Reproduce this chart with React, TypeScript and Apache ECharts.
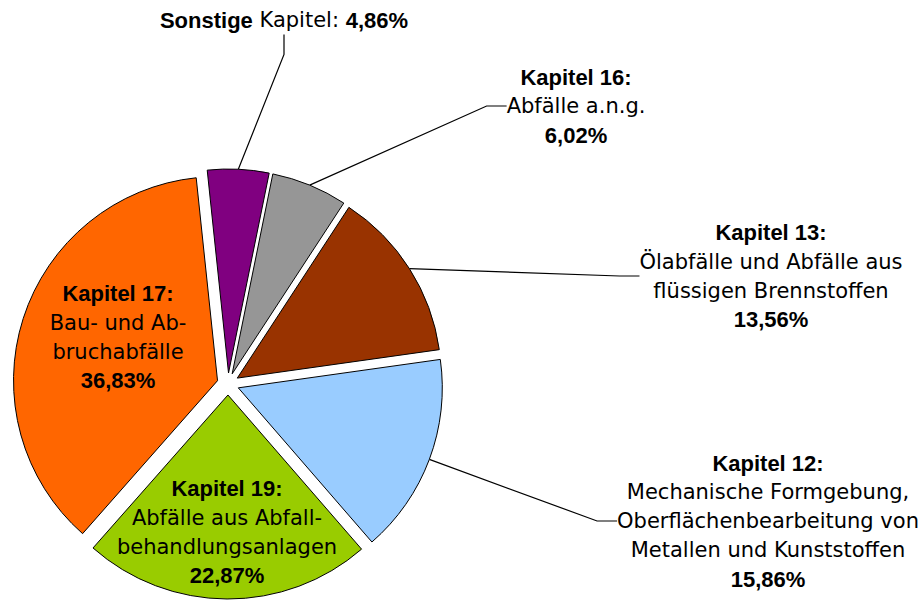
import React, { useEffect, useRef } from "react";
import * as echarts from "echarts";

const categories = [
  "Sonstige Kapitel",
  "Kapitel 16",
  "Kapitel 13",
  "Kapitel 12",
  "Kapitel 19",
  "Kapitel 17",
];
const descriptions: string[][] = [
  [],
  ["Abfälle a.n.g."],
  ["Ölabfälle und Abfälle aus", "flüssigen Brennstoffen"],
  ["Mechanische Formgebung,", "Oberflächenbearbeitung von", "Metallen und Kunststoffen"],
  ["Abfälle aus Abfall-", "behandlungsanlagen"],
  ["Bau- und Ab-", "bruchabfälle"],
];
const values = [4.86, 6.02, 13.56, 15.86, 22.87, 36.83];
const colors = ["#800080", "#969696", "#993300", "#99CCFF", "#99CC00", "#FF6600"];
const insideLabel = [false, false, false, false, true, true];

// label anchor positions (layout only)
const labelPos: [number, number][] = [
  [284, 20],
  [576, 106],
  [771, 276],
  [768, 521],
  [227, 532],
  [118, 337],
];

const CENTER: [number, number] = [228, 384];
const RADIUS = 204;
const START_ANGLE = 96;
const EXPLODE = 11;

const fmtPct = (v: number) => v.toFixed(2).replace(".", ",") + "%";

export default function App() {
  const ref = useRef<HTMLDivElement>(null);
  useEffect(() => {
    if (!ref.current) return;
    const chart = echarts.init(ref.current, undefined, { renderer: "svg" });
    const total = values.reduce((a, b) => a + b, 0);
    let cum = 0;
    const series = categories.map((_, k) => {
      const mid = START_ANGLE - (360 * (cum + values[k] / 2)) / total;
      cum += values[k];
      const rad = (mid * Math.PI) / 180;
      const cx = CENTER[0] + EXPLODE * Math.cos(rad);
      const cy = CENTER[1] - EXPLODE * Math.sin(rad);
      const data = categories.map((name, i) => {
        const on = i === k;
        return {
          name,
          value: values[i],
          itemStyle: on
            ? { color: colors[i], borderColor: "#000000", borderWidth: 1 }
            : { color: "rgba(0,0,0,0)", borderWidth: 0 },
          label: { show: on, position: insideLabel[i] ? "inside" : "outside" },
          labelLine: { show: on && !insideLabel[i] },
        };
      });
      return {
        type: "pie",
        center: [cx, cy],
        radius: RADIUS,
        startAngle: START_ANGLE,
        clockwise: true,
        avoidLabelOverlap: false,
        silent: true,
        emphasis: { disabled: true },
        labelLine: {
          lineStyle: { color: "#000000", width: 1.2 },
          length: 20,
          length2: 20,
        },
        label: {
          color: "#000000",
          fontFamily: "DejaVu Sans",
          fontSize: 21,
          lineHeight: 29,
          align: "center",
          formatter: (p: any) => {
            const i = p.dataIndex;
            if (i === 0) {
              return `{b|Sonstige} {n|Kapitel:} {b|${fmtPct(p.value)}}`;
            }
            const lines = [`{b|${p.name}:}`];
            descriptions[i].forEach((d) => lines.push(`{n|${d}}`));
            lines.push(`{b|${fmtPct(p.value)}}`);
            return lines.join("\n");
          },
          rich: {
            b: {
              fontFamily: "Liberation Sans",
              fontWeight: "bold",
              fontSize: 22,
              lineHeight: 29,
              color: "#000000",
            },
            n: {
              fontFamily: "DejaVu Sans",
              fontSize: 21,
              lineHeight: 29,
              color: "#000000",
            },
          },
        },
        labelLayout: (params: any) => {
          const pos = labelPos[params.dataIndex];
          return {
            x: pos[0],
            y: pos[1],
            align: "center",
            verticalAlign: "middle",
          };
        },
        data,
      };
    });
    chart.setOption({
      animation: false,
      backgroundColor: "#ffffff",
      series,
    });
    return () => chart.dispose();
  }, []);
  return (
    <div
      ref={ref}
      style={{ position: "fixed", left: 0, top: 0, width: 923, height: 602, background: "#fff" }}
    />
  );
}
